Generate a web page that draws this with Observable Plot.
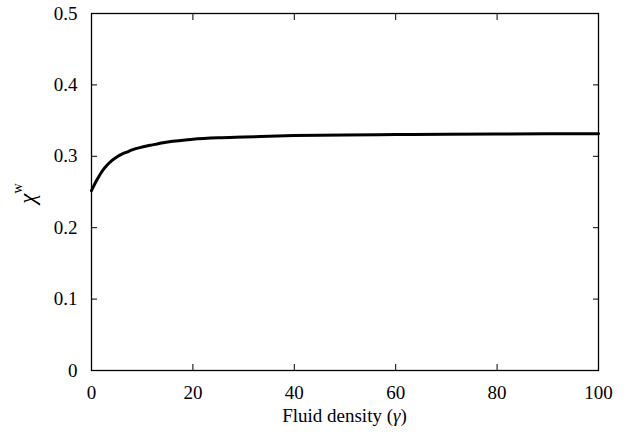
<!DOCTYPE html>
<html><head><meta charset="utf-8">
<script src="https://cdn.jsdelivr.net/npm/d3@7"></script>
<script src="https://cdn.jsdelivr.net/npm/@observablehq/plot@0.6"></script>
<style>
body{margin:0;background:#fff}
svg{display:block}
</style>
</head><body><div id="chart"></div>
<script>
const gammaValues = [0, 1, 2, 3, 4, 5, 6, 7, 8, 10, 12, 15, 20, 25, 30, 40, 50, 60, 70, 80, 90, 100];
const chiValues = [0.252, 0.266, 0.278, 0.287, 0.294, 0.299, 0.303, 0.306, 0.309, 0.313, 0.316, 0.320, 0.324, 0.326, 0.327, 0.329, 0.330, 0.3305, 0.331, 0.3313, 0.3315, 0.3317];
const xTicks = [0, 20, 40, 60, 80, 100];
const yTicks = [0, 0.1, 0.2, 0.3, 0.4, 0.5];
const yTickLabels = ["0", "0.1", "0.2", "0.3", "0.4", "0.5"];
const xLabel = "Fluid density (";
const xLabelSym = "γ";
const yLabelSym = "χ";
const yLabelSup = "w";
const serif = "Liberation Serif";

const data = gammaValues.map((g, i) => ({gamma: g, chi: chiValues[i]}));

const plot = Plot.plot({
  width: 629, height: 441,
  marginLeft: 91, marginRight: 31, marginTop: 13, marginBottom: 71,
  style: "font-family: Liberation Serif; font-size: 19px; color: black; background: white;",
  x: {domain: [0, 100]},
  y: {domain: [0, 0.5]},
  marks: [
    Plot.axisX(xTicks, {anchor: "bottom", tickSize: -6, tickPadding: 21, label: null, tickFormat: d => String(d), fontSize: 19, fontFamily: serif}),
    Plot.axisX(xTicks, {anchor: "top", tickSize: -6, label: null, tickFormat: () => ""}),
    Plot.axisY(yTicks, {anchor: "left", tickSize: -6, tickPadding: 20, label: null, tickFormat: (d, i) => yTickLabels[i], fontSize: 19, fontFamily: serif}),
    Plot.axisY(yTicks, {anchor: "right", tickSize: -6, label: null, tickFormat: () => ""}),
    Plot.frame({stroke: "black", strokeWidth: 1.3}),
    Plot.line(data, {x: "gamma", y: "chi", stroke: "black", strokeWidth: 3, curve: "monotone-x"})
  ]
});
document.getElementById("chart").append(plot);

const svg = d3.select(plot);
const xs = plot.scale("x"), ys = plot.scale("y");
const cx = (xs.range[0] + xs.range[1]) / 2;
const cy = (ys.range[0] + ys.range[1]) / 2;
const xl = svg.append("text")
  .attr("x", cx).attr("y", ys.range[0] + 52)
  .attr("text-anchor", "middle")
  .attr("font-size", 19).attr("fill", "black");
xl.append("tspan").text(xLabel);
xl.append("tspan").attr("font-style", "italic").text(xLabelSym);
xl.append("tspan").text(")");

const yl = svg.append("text")
  .attr("transform", `translate(${xs.range[0] - 56},${cy + 2}) rotate(-90)`)
  .attr("text-anchor", "middle").attr("fill", "black");
yl.append("tspan").attr("font-size", 23).attr("font-style", "italic").text(yLabelSym);
yl.append("tspan").attr("font-size", 14).attr("dy", -13).text(yLabelSup);

svg.attr("font-family", serif);
svg.selectAll("g").attr("font-family", serif);
svg.selectAll("text").attr("font-family", serif);
for (const el of plot.querySelectorAll("svg, g, text, tspan").values()) {
  el.style.setProperty("font-family", "'Liberation Serif', serif", "important");
}
plot.style.setProperty("font-family", "'Liberation Serif', serif", "important");
</script>
</body></html>
